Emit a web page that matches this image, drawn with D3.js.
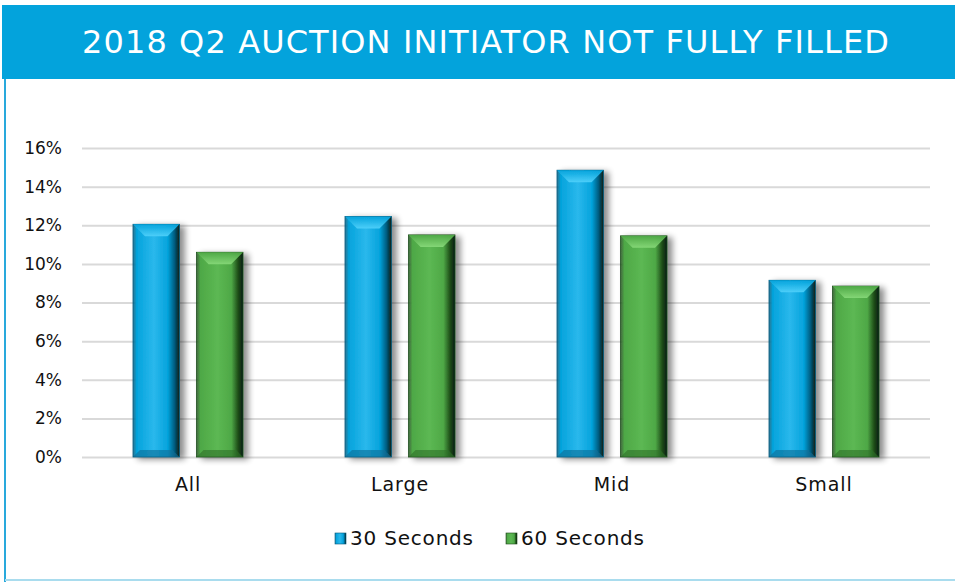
<!DOCTYPE html>
<html>
<head>
<meta charset="utf-8">
<script src="https://cdn.jsdelivr.net/npm/d3@7"></script>
<style>
  body { margin: 0; background: #fff; }
  text { font-family: "DejaVu Sans", "Open Sans", sans-serif; }
</style>
</head>
<body>
<div id="chart"></div>
<script>
// data
const categories = ["All", "Large", "Mid", "Small"];
const seriesNames = ["30 Seconds", "60 Seconds"];
const values30 = [12.05, 12.45, 14.85, 9.15];
const values60 = [10.6, 11.5, 11.45, 8.85];
const yTicks = [0, 2, 4, 6, 8, 10, 12, 14, 16];

const W = 955, H = 582;
const margin = { top: 148, right: 25, bottom: 125, left: 82 };
const width = 930 - margin.left;
const height = 457 - margin.top;

const svg = d3.select("#chart").append("svg")
    .attr("width", W)
    .attr("height", H);

const defs = svg.append("defs");

const pal = [
  { id: "blue", light: "#2ab8ec", mid: "#04a3dc", dark: "#02597c", top: "#4fd0fa", bot: "#0c6d94" },
  { id: "green", light: "#5cb853", mid: "#4ea846", dark: "#1b4a17", top: "#86d878", bot: "#2f7029" }
];
pal.forEach(p => {
  const g = defs.append("linearGradient").attr("id", "g-" + p.id)
      .attr("x1", 0).attr("x2", 1).attr("y1", 0).attr("y2", 0);
  g.append("stop").attr("offset", "0%").attr("stop-color", p.dark).attr("stop-opacity", 0.8);
  g.append("stop").attr("offset", "8%").attr("stop-color", p.mid);
  g.append("stop").attr("offset", "45%").attr("stop-color", p.light);
  g.append("stop").attr("offset", "75%").attr("stop-color", p.mid);
  g.append("stop").attr("offset", "90%").attr("stop-color", p.dark);
  g.append("stop").attr("offset", "100%").attr("stop-color", "#0b1e10");

  const t = defs.append("linearGradient").attr("id", "t-" + p.id)
      .attr("x1", 0).attr("x2", 0).attr("y1", 0).attr("y2", 1);
  t.append("stop").attr("offset", "0%").attr("stop-color", p.mid);
  t.append("stop").attr("offset", "100%").attr("stop-color", p.top);
});

const shadow = defs.append("filter").attr("id", "shadow")
    .attr("x", "-20%").attr("y", "-10%").attr("width", "160%").attr("height", "130%");
shadow.append("feGaussianBlur").attr("in", "SourceAlpha").attr("stdDeviation", 3);
shadow.append("feOffset").attr("dx", 5).attr("dy", 2).attr("result", "ob");
shadow.append("feComponentTransfer").append("feFuncA").attr("type", "linear").attr("slope", 0.45);
const merge = shadow.append("feMerge");
merge.append("feMergeNode");
merge.append("feMergeNode").attr("in", "SourceGraphic");

// header
svg.append("rect")
    .attr("x", 2).attr("y", 5).attr("width", W - 2).attr("height", 74)
    .attr("fill", "#03a3dc");
svg.append("text")
    .attr("x", 486).attr("y", 53)
    .attr("text-anchor", "middle")
    .attr("fill", "#fff")
    .style("font-size", "32px")
    .style("letter-spacing", "1.1px")
    .text("2018 Q2 AUCTION INITIATOR NOT FULLY FILLED");

// frame lines
svg.append("line").attr("x1", 5).attr("x2", 5).attr("y1", 79).attr("y2", H)
    .attr("stroke", "#29a9dc").attr("stroke-width", 2);
svg.append("line").attr("x1", 5).attr("x2", W).attr("y1", 580).attr("y2", 580)
    .attr("stroke", "#a9dcee").attr("stroke-width", 2);

const g = svg.append("g")
    .attr("transform", "translate(" + margin.left + "," + margin.top + ")");

const x0 = d3.scaleBand().domain(categories).range([0, width]);
const x1 = d3.scaleBand().domain(seriesNames).range([51, 161]).paddingInner(0.27);
const y = d3.scaleLinear().domain([0, 16]).range([height, 0]);

// gridlines
g.append("g")
    .call(d3.axisLeft(y).tickValues(yTicks).tickSize(-width).tickFormat(""))
    .call(a => a.select(".domain").remove())
    .selectAll("line")
    .attr("stroke", "#d9d9d9")
    .attr("stroke-width", 2);

// y labels
g.append("g")
    .call(d3.axisLeft(y).tickValues(yTicks).tickSize(0).tickPadding(20).tickFormat(d => d + "%"))
    .call(a => a.select(".domain").remove())
    .selectAll("text")
    .attr("fill", "#111")
    .style("font-size", "17px")
    .style("font-family", "'DejaVu Sans', sans-serif");

// x labels
g.append("g")
    .attr("transform", `translate(0,${height})`)
    .call(d3.axisBottom(x0).tickSize(0).tickPadding(21))
    .call(a => a.select(".domain").remove())
    .selectAll("text")
    .attr("fill", "#111")
    .style("font-size", "19px")
    .style("letter-spacing", "0.9px")
    .style("font-family", "'DejaVu Sans', sans-serif");

const rows = categories.map((c, i) => ({ cat: c, vals: [values30[i], values60[i]] }));

const groups = g.selectAll(".grp")
    .data(rows)
    .enter().append("g")
    .attr("transform", d => `translate(${x0(d.cat)},0)`);

const bars = groups.selectAll(".bar")
    .data(d => d.vals.map((v, k) => ({ v, k })))
    .enter().append("g")
    .attr("filter", "url(#shadow)");

function geom(d) {
  return { bx: x1(seriesNames[d.k]), bw: x1.bandwidth(), ty: y(d.v), by: y(0) };
}

bars.append("rect")
    .attr("x", d => geom(d).bx)
    .attr("y", d => geom(d).ty)
    .attr("width", x1.bandwidth())
    .attr("height", d => y(0) - y(d.v))
    .attr("fill", d => "url(#g-" + pal[d.k].id + ")")
    .attr("stroke", d => pal[d.k].dark)
    .attr("stroke-width", 0.8);

// top bevel
bars.append("path")
    .attr("d", d => {
      const s = geom(d), b = 12;
      return `M${s.bx},${s.ty}L${s.bx + s.bw},${s.ty}L${s.bx + s.bw - b},${s.ty + b}L${s.bx + b},${s.ty + b}Z`;
    })
    .attr("fill", d => "url(#t-" + pal[d.k].id + ")")
    .attr("opacity", 0.95);

// bottom bevel
bars.append("path")
    .attr("d", d => {
      const s = geom(d), b = 7;
      return `M${s.bx},${s.by}L${s.bx + s.bw},${s.by}L${s.bx + s.bw - b},${s.by - b}L${s.bx + b},${s.by - b}Z`;
    })
    .attr("fill", d => pal[d.k].bot)
    .attr("opacity", 0.6);

// legend
const legendX = [335, 506];
const legend = svg.selectAll(".leg")
    .data(seriesNames)
    .enter().append("g")
    .attr("transform", (d, i) => `translate(${legendX[i]},533)`);

legend.append("rect")
    .attr("width", 11).attr("height", 11)
    .attr("fill", (d, i) => "url(#g-" + pal[i].id + ")")
    .attr("stroke", (d, i) => pal[i].dark)
    .attr("stroke-width", 0.6);

legend.append("text")
    .attr("x", 15).attr("y", 12)
    .attr("fill", "#111")
    .style("font-size", "20px")
    .style("letter-spacing", "0.8px")
    .text(d => d);
</script>
</body>
</html>
